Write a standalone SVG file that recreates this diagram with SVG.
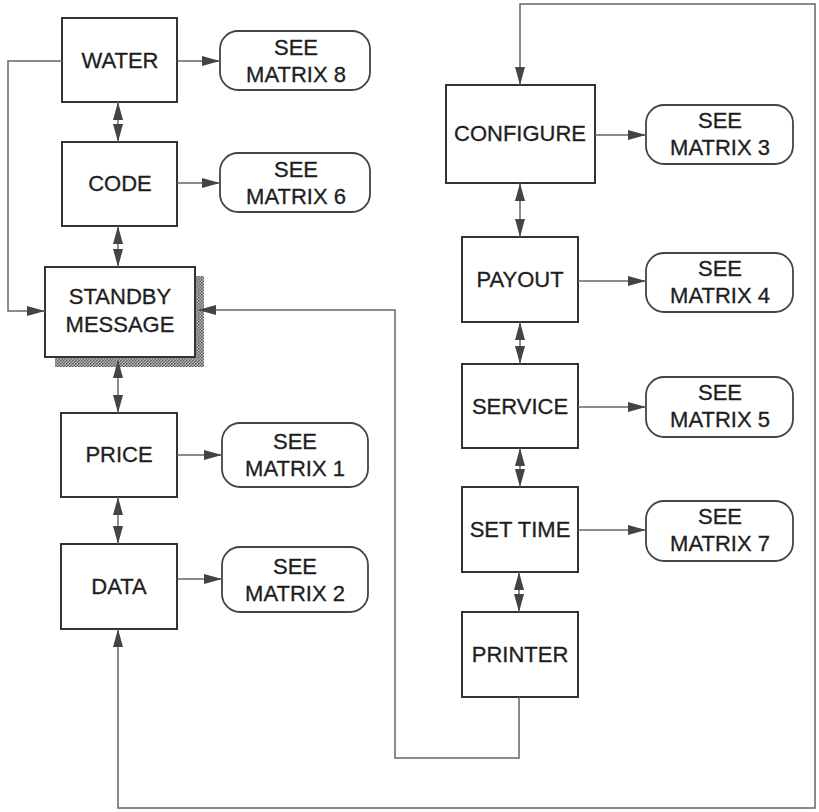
<svg xmlns="http://www.w3.org/2000/svg" width="819" height="812" viewBox="0 0 819 812">
<style>
.box{fill:#fff;stroke:#333;stroke-width:2}
.pill{fill:#fff;stroke:#444;stroke-width:1.8}
.t{font-family:"Liberation Sans",Arial,sans-serif;font-size:22px;fill:#1e1e1e;stroke:#1e1e1e;stroke-width:0.3;text-anchor:middle}
.c{fill:none;stroke:#666;stroke-width:1.5}
</style>
<defs>
<marker id="ah" markerUnits="userSpaceOnUse" markerWidth="20" markerHeight="12" refX="18" refY="6" orient="auto-start-reverse">
<path d="M0,1 L18,6 L0,11 z" fill="#444"/>
</marker>
<pattern id="hatch" width="3" height="3" patternUnits="userSpaceOnUse">
<rect width="3" height="3" fill="#bbb"/>
<rect width="1.5" height="1.5" fill="#555"/>
<rect x="1.5" y="1.5" width="1.5" height="1.5" fill="#666"/>
</pattern>
</defs>
<rect width="819" height="812" fill="#fff"/>

<g id="water"><rect class="box" x="62" y="18" width="115" height="84"/><text class="t" x="120" y="68">WATER</text></g>
<g id="m8"><rect class="pill" x="220" y="31" width="150" height="59" rx="18"/><text class="t" x="296" y="55">SEE</text><text class="t" x="296" y="82">MATRIX 8</text></g>
<g id="code"><rect class="box" x="62" y="142" width="115" height="84"/><text class="t" x="120" y="191">CODE</text></g>
<g id="m6"><rect class="pill" x="220" y="153" width="150" height="59" rx="18"/><text class="t" x="296" y="177">SEE</text><text class="t" x="296" y="204">MATRIX 6</text></g>
<g id="standby"><rect x="55" y="276" width="149" height="91" fill="url(#hatch)"/><rect class="box" x="45" y="267" width="150" height="90"/><text class="t" x="120" y="304">STANDBY</text><text class="t" x="120" y="332">MESSAGE</text></g>
<g id="price"><rect class="box" x="61" y="413" width="116" height="84"/><text class="t" x="119" y="462">PRICE</text></g>
<g id="m1"><rect class="pill" x="222" y="423" width="146" height="64" rx="18"/><text class="t" x="295" y="449">SEE</text><text class="t" x="295" y="476">MATRIX 1</text></g>
<g id="data"><rect class="box" x="61" y="544" width="116" height="85"/><text class="t" x="119" y="594">DATA</text></g>
<g id="m2"><rect class="pill" x="222" y="547" width="146" height="65" rx="18"/><text class="t" x="295" y="574">SEE</text><text class="t" x="295" y="601">MATRIX 2</text></g>

<g id="configure"><rect class="box" x="446" y="85" width="149" height="98"/><text class="t" x="520" y="141">CONFIGURE</text></g>
<g id="m3"><rect class="pill" x="646" y="105" width="147" height="59" rx="18"/><text class="t" x="720" y="128">SEE</text><text class="t" x="720" y="155">MATRIX 3</text></g>
<g id="payout"><rect class="box" x="462" y="237" width="116" height="85"/><text class="t" x="520" y="287">PAYOUT</text></g>
<g id="m4"><rect class="pill" x="646" y="253" width="147" height="59" rx="18"/><text class="t" x="720" y="276">SEE</text><text class="t" x="720" y="303">MATRIX 4</text></g>
<g id="service"><rect class="box" x="462" y="364" width="116" height="84"/><text class="t" x="520" y="414">SERVICE</text></g>
<g id="m5"><rect class="pill" x="646" y="377" width="147" height="60" rx="18"/><text class="t" x="720" y="400">SEE</text><text class="t" x="720" y="427">MATRIX 5</text></g>
<g id="settime"><rect class="box" x="462" y="487" width="116" height="85"/><text class="t" x="520" y="537">SET TIME</text></g>
<g id="m7"><rect class="pill" x="646" y="501" width="147" height="60" rx="18"/><text class="t" x="720" y="524">SEE</text><text class="t" x="720" y="551">MATRIX 7</text></g>
<g id="printer"><rect class="box" x="462" y="612" width="116" height="85"/><text class="t" x="520" y="662">PRINTER</text></g>

<g id="connectors">
<path class="c" d="M177,61 H220" marker-end="url(#ah)"/>
<path class="c" d="M177,183 H220" marker-end="url(#ah)"/>
<path class="c" d="M118,102 V142" marker-start="url(#ah)" marker-end="url(#ah)"/>
<path class="c" d="M118,226 V267" marker-start="url(#ah)" marker-end="url(#ah)"/>
<path class="c" d="M62,61 H8 V311 H45" marker-end="url(#ah)"/>
<path class="c" d="M118,360 V413" marker-start="url(#ah)" marker-end="url(#ah)"/>
<path class="c" d="M177,455 H222" marker-end="url(#ah)"/>
<path class="c" d="M118,497 V544" marker-start="url(#ah)" marker-end="url(#ah)"/>
<path class="c" d="M177,579 H222" marker-end="url(#ah)"/>
<path class="c" d="M519,697 V758 H395 V310 H198" marker-end="url(#ah)"/>
<path class="c" d="M118,629 V808 H815 V4 H520 V85" marker-start="url(#ah)" marker-end="url(#ah)"/>
<path class="c" d="M595,135 H646" marker-end="url(#ah)"/>
<path class="c" d="M520,183 V237" marker-start="url(#ah)" marker-end="url(#ah)"/>
<path class="c" d="M578,281 H646" marker-end="url(#ah)"/>
<path class="c" d="M520,322 V364" marker-start="url(#ah)" marker-end="url(#ah)"/>
<path class="c" d="M578,407 H646" marker-end="url(#ah)"/>
<path class="c" d="M520,448 V487" marker-start="url(#ah)" marker-end="url(#ah)"/>
<path class="c" d="M578,530 H646" marker-end="url(#ah)"/>
<path class="c" d="M519,572 V612" marker-start="url(#ah)" marker-end="url(#ah)"/>
</g>
</svg>
